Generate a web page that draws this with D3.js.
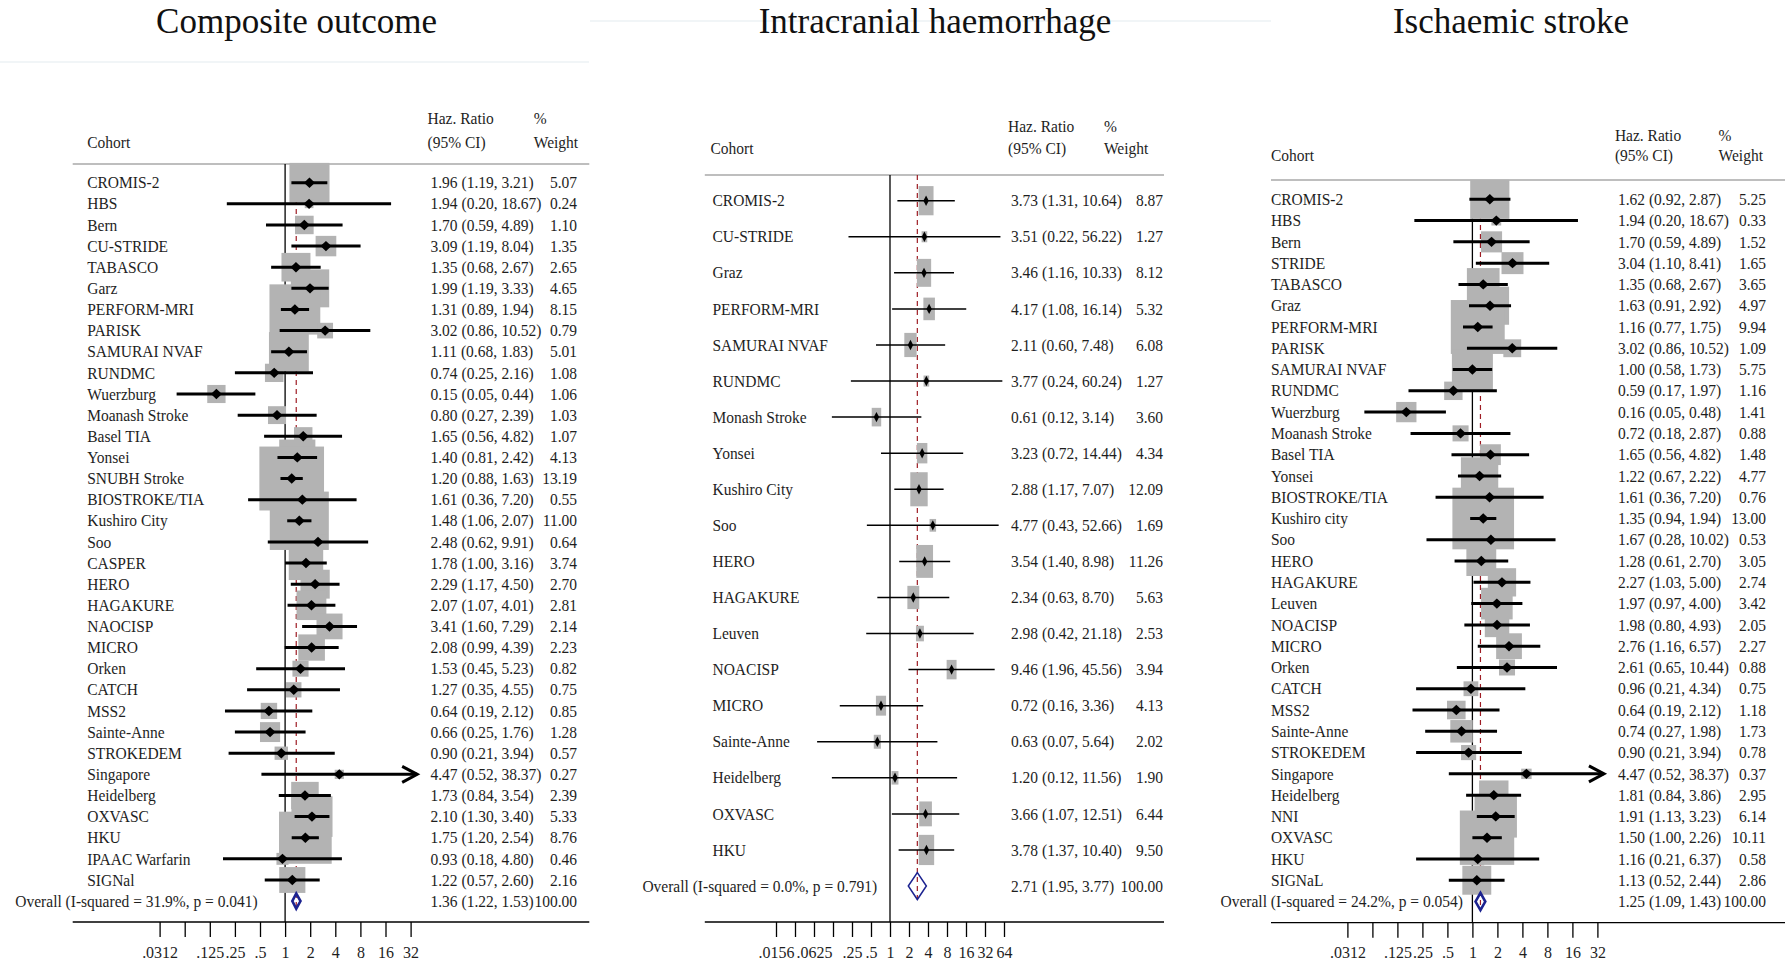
<!DOCTYPE html>
<html>
<head>
<meta charset="utf-8">
<script src="https://cdn.jsdelivr.net/npm/d3@7"></script>
<style>
  html, body { margin: 0; padding: 0; background: #fff; }
  svg { display: block; }
</style>
</head>
<body>
<svg id="chart" width="1785" height="962"></svg>
<script>
// ---------- Composite outcome ----------
const compCohorts = ["CROMIS-2","HBS","Bern","CU-STRIDE","TABASCO","Garz","PERFORM-MRI","PARISK","SAMURAI NVAF","RUNDMC","Wuerzburg","Moanash Stroke","Basel TIA","Yonsei","SNUBH Stroke","BIOSTROKE/TIA","Kushiro City","Soo","CASPER","HERO","HAGAKURE","NAOCISP","MICRO","Orken","CATCH","MSS2","Sainte-Anne","STROKEDEM","Singapore","Heidelberg","OXVASC","HKU","IPAAC Warfarin","SIGNal"];
const compHR     = [1.96,1.94,1.70,3.09,1.35,1.99,1.31,3.02,1.11,0.74,0.15,0.80,1.65,1.40,1.20,1.61,1.48,2.48,1.78,2.29,2.07,3.41,2.08,1.53,1.27,0.64,0.66,0.90,4.47,1.73,2.10,1.75,0.93,1.22];
const compLo     = [1.19,0.20,0.59,1.19,0.68,1.19,0.89,0.86,0.68,0.25,0.05,0.27,0.56,0.81,0.88,0.36,1.06,0.62,1.00,1.17,1.07,1.60,0.99,0.45,0.35,0.19,0.25,0.21,0.52,0.84,1.30,1.20,0.18,0.57];
const compHi     = [3.21,18.67,4.89,8.04,2.67,3.33,1.94,10.52,1.83,2.16,0.44,2.39,4.82,2.42,1.63,7.20,2.07,9.91,3.16,4.50,4.01,7.29,4.39,5.23,4.55,2.12,1.76,3.94,38.37,3.54,3.40,2.54,4.80,2.60];
const compWeight = [5.07,0.24,1.10,1.35,2.65,4.65,8.15,0.79,5.01,1.08,1.06,1.03,1.07,4.13,13.19,0.55,11.00,0.64,3.74,2.70,2.81,2.14,2.23,0.82,0.75,0.85,1.28,0.57,0.27,2.39,5.33,8.76,0.46,2.16];
const compOverallLabel = "Overall (I-squared = 31.9%, p = 0.041)";
const compOverall = [1.36, 1.22, 1.53];

// ---------- Intracranial haemorrhage ----------
const ichCohorts = ["CROMIS-2","CU-STRIDE","Graz","PERFORM-MRI","SAMURAI NVAF","RUNDMC","Monash Stroke","Yonsei","Kushiro City","Soo","HERO","HAGAKURE","Leuven","NOACISP","MICRO","Sainte-Anne","Heidelberg","OXVASC","HKU"];
const ichHR     = [3.73,3.51,3.46,4.17,2.11,3.77,0.61,3.23,2.88,4.77,3.54,2.34,2.98,9.46,0.72,0.63,1.20,3.66,3.78];
const ichLo     = [1.31,0.22,1.16,1.08,0.60,0.24,0.12,0.72,1.17,0.43,1.40,0.63,0.42,1.96,0.16,0.07,0.12,1.07,1.37];
const ichHi     = [10.64,56.22,10.33,16.14,7.48,60.24,3.14,14.44,7.07,52.66,8.98,8.70,21.18,45.56,3.36,5.64,11.56,12.51,10.40];
const ichWeight = [8.87,1.27,8.12,5.32,6.08,1.27,3.60,4.34,12.09,1.69,11.26,5.63,2.53,3.94,4.13,2.02,1.90,6.44,9.50];
const ichOverallLabel = "Overall (I-squared = 0.0%, p = 0.791)";
const ichOverall = [2.71, 1.95, 3.77];

// ---------- Ischaemic stroke ----------
const isCohorts = ["CROMIS-2","HBS","Bern","STRIDE","TABASCO","Graz","PERFORM-MRI","PARISK","SAMURAI NVAF","RUNDMC","Wuerzburg","Moanash Stroke","Basel TIA","Yonsei","BIOSTROKE/TIA","Kushiro city","Soo","HERO","HAGAKURE","Leuven","NOACISP","MICRO","Orken","CATCH","MSS2","Sainte-Anne","STROKEDEM","Singapore","Heidelberg","NNI","OXVASC","HKU","SIGNaL"];
const isHR     = [1.62,1.94,1.70,3.04,1.35,1.63,1.16,3.02,1.00,0.59,0.16,0.72,1.65,1.22,1.61,1.35,1.67,1.28,2.27,1.97,1.98,2.76,2.61,0.96,0.64,0.74,0.90,4.47,1.81,1.91,1.50,1.16,1.13];
const isLo     = [0.92,0.20,0.59,1.10,0.68,0.91,0.77,0.86,0.58,0.17,0.05,0.18,0.56,0.67,0.36,0.94,0.28,0.61,1.03,0.97,0.80,1.16,0.65,0.21,0.19,0.27,0.21,0.52,0.84,1.13,1.00,0.21,0.52];
const isHi     = [2.87,18.67,4.89,8.41,2.67,2.92,1.75,10.52,1.73,1.97,0.48,2.87,4.82,2.22,7.20,1.94,10.02,2.70,5.00,4.00,4.93,6.57,10.44,4.34,2.12,1.98,3.94,38.37,3.86,3.23,2.26,6.37,2.44];
const isWeight = [5.25,0.33,1.52,1.65,3.65,4.97,9.94,1.09,5.75,1.16,1.41,0.88,1.48,4.77,0.76,13.00,0.53,3.05,2.74,3.42,2.05,2.27,0.88,0.75,1.18,1.73,0.78,0.37,2.95,6.14,10.11,0.58,2.86];
const isOverallLabel = "Overall (I-squared = 24.2%, p = 0.054)";
const isOverall = [1.25, 1.09, 1.43];

// ---------- Axis ticks ----------
const ticks32 = [0.03125,0.0625,0.125,0.25,0.5,1,2,4,8,16,32];
const tickLabels32 = [".0312","",".125",".25",".5","1","2","4","8","16","32"];
const ticks64 = [0.015625,0.03125,0.0625,0.125,0.25,0.5,1,2,4,8,16,32,64];
const tickLabels64 = [".0156","",".0625","",".25",".5","1","2","4","8","16","32","64"];

const titles = ["Composite outcome", "Intracranial haemorrhage", "Ischaemic stroke"];

// ---------- Styling ----------
const FONT = "'Liberation Serif','Times New Roman',serif";
const TXT = "#1e1e1e";
const SQUARE = "#b3b3b3";
const POOL_LINE = "#9e1c24";
const POOL_DIAMOND = "#1c2390";
const STRETCH = 1.1;          // the exported graphs have slightly tall lettering
const f2 = d3.format(".2f");

const panels = [
  { title: titles[0], names: compCohorts, hr: compHR, lo: compLo, hi: compHi, w: compWeight,
    ovLabel: compOverallLabel, ov: compOverall, ticks: ticks32, tickLabels: tickLabels32,
    xRange: [159.6, 410.6], y0: 182.7, step: 21.13, headerY: 164, axisY: 922,
    ruleX: [72.7, 589.3], titleX: 296.6, cohortX: 87.2, labelX: 87.2, hrX: 430.5, wX: 577,
    pctX: 533.8, hdrY1: 118, hdrY2: 142, ovLabelX: 15.3,
    kx: 17.8, ky: 17.6, mhw: 5.5, mhh: 5.2, ciW: 3, ovHalf: 7.6, ovStroke: 2.6 },
  { title: titles[1], names: ichCohorts, hr: ichHR, lo: ichLo, hi: ichHi, w: ichWeight,
    ovLabel: ichOverallLabel, ov: ichOverall, ticks: ticks64, tickLabels: tickLabels64,
    xRange: [776, 1004], y0: 200.7, step: 36.07, headerY: 175, axisY: 922,
    ruleX: [704.8, 1164], titleX: 935, cohortX: 710.5, labelX: 712.5, hrX: 1011, wX: 1163,
    pctX: 1103.9, hdrY1: 126, hdrY2: 148.7, ovLabelX: 642.4,
    kx: 5.0, ky: 9.8, mhw: 2.7, mhh: 5.2, ciW: 1.5, ovHalf: 13.5, ovStroke: 1.5 },
  { title: titles[2], names: isCohorts, hr: isHR, lo: isLo, hi: isHi, w: isWeight,
    ovLabel: isOverallLabel, ov: isOverall, ticks: ticks32, tickLabels: tickLabels32,
    xRange: [1347.4, 1597.4], y0: 199.3, step: 21.28, headerY: 180, axisY: 922.7,
    ruleX: [1271, 1785], titleX: 1511, cohortX: 1271, labelX: 1270.9, hrX: 1617.9, wX: 1766,
    pctX: 1718.6, hdrY1: 135, hdrY2: 155, ovLabelX: 1220.5,
    kx: 17.1, ky: 17.1, mhw: 5.5, mhh: 5.2, ciW: 3, ovHalf: 8.6, ovStroke: 2.6 }
];

const svg = d3.select("#chart");
svg.append("rect").attr("width", 1785).attr("height", 962).attr("fill", "#fff");

// faint frame edges between the three graph panes
svg.append("line").attr("x1", 0).attr("x2", 589).attr("y1", 62).attr("y2", 62)
  .attr("stroke", "#e4ebef").attr("stroke-width", 1.2);
svg.append("line").attr("x1", 590).attr("x2", 1271).attr("y1", 21).attr("y2", 21)
  .attr("stroke", "#e4ebef").attr("stroke-width", 1.2);

function diamondPath(cx, cy, hw, hh) {
  return `M${cx - hw},${cy}L${cx},${cy - hh}L${cx + hw},${cy}L${cx},${cy + hh}Z`;
}

function text(g, x, y, str, opts = {}) {
  return g.append("text")
    .attr("transform", `translate(${x},${y}) scale(1,${STRETCH})`)
    .attr("dy", "0.33em")
    .attr("font-family", FONT).attr("font-size", opts.size || 15.5)
    .attr("fill", TXT)
    .attr("text-anchor", opts.anchor || "start")
    .text(str);
}

function drawPanel(cfg) {
  const g = svg.append("g");
  const dMin = cfg.ticks[0], dMax = cfg.ticks[cfg.ticks.length - 1];
  const x = d3.scaleLog().base(2).domain([dMin, dMax]).range(cfg.xRange);
  const y = d3.scaleLinear().domain([0, 1]).range([cfg.y0, cfg.y0 + cfg.step]);
  const sw = d3.scaleSqrt().domain([0, 1]).range([0, cfg.kx]);
  const sh = d3.scaleSqrt().domain([0, 1]).range([0, cfg.ky]);

  const rows = cfg.names.map((name, i) => ({
    name, i, hr: cfg.hr[i], lo: cfg.lo[i], hi: cfg.hi[i], w: cfg.w[i]
  }));
  const nOv = rows.length;
  const [ovHR, ovLo, ovHi] = cfg.ov;

  // title
  g.append("text").attr("x", cfg.titleX).attr("y", 33)
    .attr("text-anchor", "middle").attr("font-family", FONT)
    .attr("font-size", 35).attr("fill", "#111").text(cfg.title);

  // column headers
  text(g, cfg.cohortX, cfg.hdrY2, "Cohort");
  text(g, cfg.hrX - 3, cfg.hdrY1, "Haz. Ratio");
  text(g, cfg.hrX - 3, cfg.hdrY2, "(95% CI)");
  text(g, cfg.pctX, cfg.hdrY1, "%");
  text(g, cfg.pctX, cfg.hdrY2, "Weight");

  // rule under headers
  g.append("line").attr("x1", cfg.ruleX[0]).attr("x2", cfg.ruleX[1])
    .attr("y1", cfg.headerY).attr("y2", cfg.headerY)
    .attr("stroke", "#a9a9a9").attr("stroke-width", 1.3);

  // line of no effect
  g.append("line").attr("x1", x(1)).attr("x2", x(1))
    .attr("y1", cfg.headerY).attr("y2", cfg.axisY)
    .attr("stroke", "#000").attr("stroke-width", 1.3);

  // pooled estimate line
  g.append("line").attr("x1", x(ovHR)).attr("x2", x(ovHR))
    .attr("y1", cfg.headerY).attr("y2", y(nOv) + cfg.ovHalf)
    .attr("stroke", POOL_LINE).attr("stroke-width", 1.2)
    .attr("stroke-dasharray", "5,4");

  // weight boxes
  g.append("g").selectAll("rect").data(rows).join("rect")
    .attr("x", d => x(d.hr) - sw(d.w) / 2)
    .attr("y", d => y(d.i) - sh(d.w) / 2)
    .attr("width", d => sw(d.w))
    .attr("height", d => sh(d.w))
    .attr("fill", SQUARE);

  // confidence intervals
  g.append("g").selectAll("line").data(rows).join("line")
    .attr("x1", d => x(d.lo))
    .attr("x2", d => x(d.hi))
    .attr("y1", d => y(d.i)).attr("y2", d => y(d.i))
    .attr("stroke", "#000").attr("stroke-width", cfg.ciW);

  // arrowheads where the interval runs past the axis
  const over = rows.filter(d => d.hi > dMax);
  g.append("g").selectAll("path").data(over).join("path")
    .attr("d", d => {
      const tx = x(d.hi), ty = y(d.i);
      return `M${tx - 15},${ty - 8}L${tx},${ty}L${tx - 15},${ty + 8}`;
    })
    .attr("fill", "none").attr("stroke", "#000").attr("stroke-width", cfg.ciW);

  // point estimates
  g.append("g").selectAll("path").data(rows).join("path")
    .attr("d", d => diamondPath(x(d.hr), y(d.i), cfg.mhw, cfg.mhh))
    .attr("fill", "#000");

  // pooled diamond
  g.append("path")
    .attr("d", `M${x(ovLo)},${y(nOv)}L${x(ovHR)},${y(nOv) - cfg.ovHalf}L${x(ovHi)},${y(nOv)}L${x(ovHR)},${y(nOv) + cfg.ovHalf}Z`)
    .attr("fill", "none").attr("stroke", POOL_DIAMOND).attr("stroke-width", cfg.ovStroke);

  // axis
  const axis = d3.axisBottom(x).tickValues(cfg.ticks)
    .tickFormat((d, i) => cfg.tickLabels[i]).tickSize(15).tickPadding(6);
  const ax = g.append("g").attr("transform", `translate(0,${cfg.axisY})`).call(axis);
  ax.select(".domain").remove();
  ax.selectAll(".tick line").attr("stroke", "#000").attr("stroke-width", 1.3);
  ax.selectAll(".tick text").attr("font-family", FONT).attr("font-size", 16).attr("fill", TXT)
    .attr("transform", `scale(1,${STRETCH})`);
  g.append("line").attr("x1", cfg.ruleX[0]).attr("x2", cfg.ruleX[1])
    .attr("y1", cfg.axisY).attr("y2", cfg.axisY)
    .attr("stroke", "#000").attr("stroke-width", 1.3);

  // row text
  rows.forEach(d => {
    text(g, cfg.labelX, y(d.i), d.name);
    text(g, cfg.hrX, y(d.i), `${f2(d.hr)} (${f2(d.lo)}, ${f2(d.hi)})`);
    text(g, cfg.wX, y(d.i), f2(d.w), { anchor: "end" });
  });
  text(g, cfg.ovLabelX, y(nOv), cfg.ovLabel);
  text(g, cfg.hrX, y(nOv), `${f2(ovHR)} (${f2(ovLo)}, ${f2(ovHi)})`);
  text(g, cfg.wX, y(nOv), "100.00", { anchor: "end" });
}

panels.forEach(drawPanel);
</script>
</body>
</html>
